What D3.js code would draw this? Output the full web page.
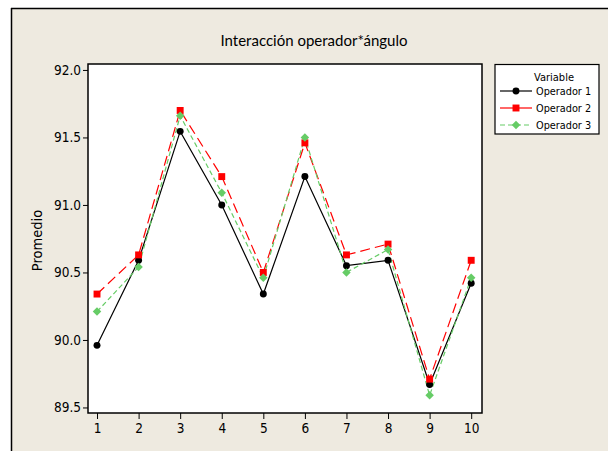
<!DOCTYPE html>
<html><head><meta charset="utf-8">
<script src="https://cdn.jsdelivr.net/npm/d3@7"></script>
<style>
html,body{margin:0;padding:0;background:#fff;}
svg{display:block;}
</style></head>
<body>
<svg id="chart" width="608" height="451"></svg>
<script>
const categories = [1,2,3,4,5,6,7,8,9,10];
const operador1 = [89.96, 90.59, 91.545, 91.00, 90.34, 91.21, 90.55, 90.59, 89.67, 90.42];
const operador2 = [90.34, 90.63, 91.70, 91.21, 90.50, 91.46, 90.63, 90.71, 89.71, 90.59];
const operador3 = [90.21, 90.54, 91.66, 91.09, 90.46, 91.50, 90.50, 90.67, 89.59, 90.46];
const yTicks = [89.5, 90.0, 90.5, 91.0, 91.5, 92.0];
const seriesNames = ["Operador 1", "Operador 2", "Operador 3"];
const titleText = "Interacción operador*ángulo";
const yLabel = "Promedio";
const legendTitle = "Variable";

const series = [
  {name: seriesNames[0], values: operador1, color: "#000000", dash: null, shape: d3.symbolCircle, size: 38, rot: 0},
  {name: seriesNames[1], values: operador2, color: "#ff0000", dash: "10,5", shape: d3.symbolSquare, size: 48, rot: 0},
  {name: seriesNames[2], values: operador3, color: "#66cc66", dash: "5,3", shape: d3.symbolSquare, size: 36, rot: 45}
];

const svg = d3.select("#chart");
const bg = "#eeeae0";
const numFont = "'DejaVu Sans Condensed', 'DejaVu Sans', sans-serif";

// outer panel
svg.append("rect").attr("x", 11).attr("y", 8).attr("width", 608 - 11).attr("height", 451 - 8)
  .attr("fill", bg);
svg.append("line").attr("x1", 11).attr("x2", 608).attr("y1", 8.5).attr("y2", 8.5).attr("stroke", "#000").attr("stroke-width", 1.5);
svg.append("line").attr("x1", 11.5).attr("x2", 11.5).attr("y1", 8).attr("y2", 451).attr("stroke", "#000").attr("stroke-width", 1.5);

const plot = {left: 88, right: 482, top: 64, bottom: 413};

const x = d3.scaleLinear().domain([0.783, 10.26]).range([plot.left, plot.right]);
const y = d3.scaleLinear().domain([89.459, 92.044]).range([plot.bottom, plot.top]);

svg.append("rect").attr("x", plot.left).attr("y", plot.top)
  .attr("width", plot.right - plot.left).attr("height", plot.bottom - plot.top)
  .attr("fill", "#fff").attr("stroke", "#000").attr("stroke-width", 1.5);

// title
svg.append("text").attr("x", 314).attr("y", 46).attr("text-anchor", "middle")
  .attr("font-family", "Lato, 'Open Sans', sans-serif").attr("font-size", 15)
  .attr("fill", "#000").text(titleText);

// axes
const yAxis = d3.axisLeft(y).tickValues(yTicks).tickFormat(d3.format(".1f")).tickSize(5).tickPadding(2);
const gy = svg.append("g").attr("transform", `translate(${plot.left},0)`).call(yAxis);
gy.select(".domain").remove();
gy.selectAll("text").attr("font-family", numFont).attr("font-size", 13.5).attr("fill", "#000");

const xAxis = d3.axisBottom(x).tickValues(categories).tickFormat(d3.format("d")).tickSize(6).tickPadding(4);
const gx = svg.append("g").attr("transform", `translate(0,${plot.bottom})`).call(xAxis);
gx.select(".domain").remove();
gx.selectAll("text").attr("font-family", numFont).attr("font-size", 13.5).attr("fill", "#000");

// y label
svg.append("text").attr("transform", `translate(42,${(plot.top + plot.bottom) / 2 + 2}) rotate(-90)`)
  .attr("text-anchor", "middle").attr("font-family", numFont).attr("font-size", 14.5)
  .attr("fill", "#000").text(yLabel);

// lines
const line = d3.line().x((d, i) => x(categories[i])).y(d => y(d));
const g = svg.append("g");
series.forEach(s => {
  g.append("path").datum(s.values).attr("d", line).attr("fill", "none")
    .attr("stroke", s.color).attr("stroke-width", 1.2)
    .attr("stroke-dasharray", s.dash);
});
series.forEach(s => {
  g.selectAll(null).data(s.values).enter().append("path")
    .attr("d", d3.symbol().type(s.shape).size(s.size))
    .attr("transform", (d, i) => `translate(${x(categories[i])},${y(d)}) rotate(${s.rot})`)
    .attr("fill", s.color);
});

// legend
const lg = svg.append("g");
lg.append("rect").attr("x", 495).attr("y", 64.5).attr("width", 104).attr("height", 69.5)
  .attr("fill", "#fff").attr("stroke", "#000").attr("stroke-width", 1.2);
lg.append("text").attr("x", 554).attr("y", 80.5).attr("text-anchor", "middle")
  .attr("font-family", numFont).attr("font-size", 11).attr("fill", "#000").text(legendTitle);
series.forEach((s, i) => {
  const ly = 91 + i * 17;
  lg.append("line").attr("x1", 500).attr("x2", 532).attr("y1", ly).attr("y2", ly)
    .attr("stroke", s.color).attr("stroke-width", 1.2).attr("stroke-dasharray", i === 2 ? "5,3" : null);
  lg.append("path").attr("d", d3.symbol().type(s.shape).size(s.size))
    .attr("transform", `translate(516,${ly}) rotate(${s.rot})`).attr("fill", s.color);
  lg.append("text").attr("x", 536).attr("y", ly + 4).attr("font-family", numFont)
    .attr("font-size", 10.8).attr("fill", "#000").text(s.name);
});
</script>
</body></html>
